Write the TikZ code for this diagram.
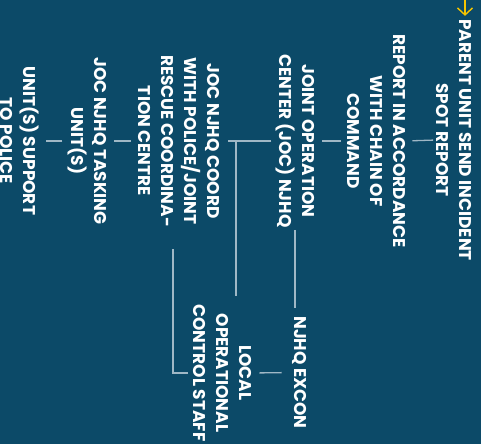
\documentclass[tikz,border=0pt]{standalone}
\usepackage{fontspec}
\setmainfont{Poppins}
\usetikzlibrary{arrows.meta,calc}
\definecolor{bg}{RGB}{12,74,104}
\definecolor{ln}{RGB}{160,184,198}
\definecolor{arr}{RGB}{245,196,0}
\begin{document}
\begin{tikzpicture}[x=1pt,y=-1pt,
  box/.style={rotate=-90, align=center, text=white, font=\fontsize{17}{23}\selectfont\bfseries, inner sep=0pt},
  link/.style={draw=ln, line width=1.3pt}]
\fill[bg] (0,0) rectangle (481,444);
\useasboundingbox (0,0) rectangle (481,444);
\node[box] (parent) at (454,140) {PARENT UNIT SEND INCIDENT\\SPOT REPORT};
\node[box] (report) at (376,141) {REPORT IN ACCORDANCE\\WITH CHAIN OF\\COMMAND};
\node[box] (joc) at (295,141) {JOINT OPERATION\\CENTER (JOC) NJHQ};
\node[box] (coord) at (178.5,141) {JOC NJHQ COORD\\WITH POLICE/JOINT\\RESCUE COORDINA-\\TION CENTRE};
\node[box] (task) at (87,141) {JOC NJHQ TASKING\\UNIT(S)};
\node[box] (support) at (19.5,141) {UNIT(S) SUPPORT\\TO POLICE};
\node[box] (excon) at (300,372.5) {NJHQ EXCON};
\node[box] (local) at (222,373) {LOCAL\\OPERATIONAL\\CONTROL STAFF};
\coordinate (a0) at (465,0);
\coordinate (j1) at (236,141);
\draw[draw=arr, line width=1.4pt, -{Straight Barb[length=7pt,width=15pt]}, shorten >=3pt] (a0) -- (a0 |- parent.west);
\draw[link, shorten <=3pt, shorten >=7pt] (parent.south) -- (report.north);
\draw[link, shorten <=6pt, shorten >=7pt] (report.south) -- (joc.north);
\draw[link, shorten <=4pt, shorten >=9pt] (joc.south) -- (coord.north);
\draw[link, shorten <=7pt, shorten >=7pt] (coord.south) -- (task.north);
\draw[link, shorten <=5pt, shorten >=7pt] (task.south) -- (support.north);
\draw[link, shorten >=8pt] (j1) -- (j1 |- local.west);
\draw[link, shorten <=2pt, shorten >=8pt] (joc.east) -- (joc.east |- excon.west);
\draw[link, shorten <=11pt, shorten >=8pt] (excon.south) -- (local.north);
\draw[link, shorten <=22pt, shorten >=5pt] ([xshift=-5.5pt]coord.east) |- (local.south);
\end{tikzpicture}
\end{document}
